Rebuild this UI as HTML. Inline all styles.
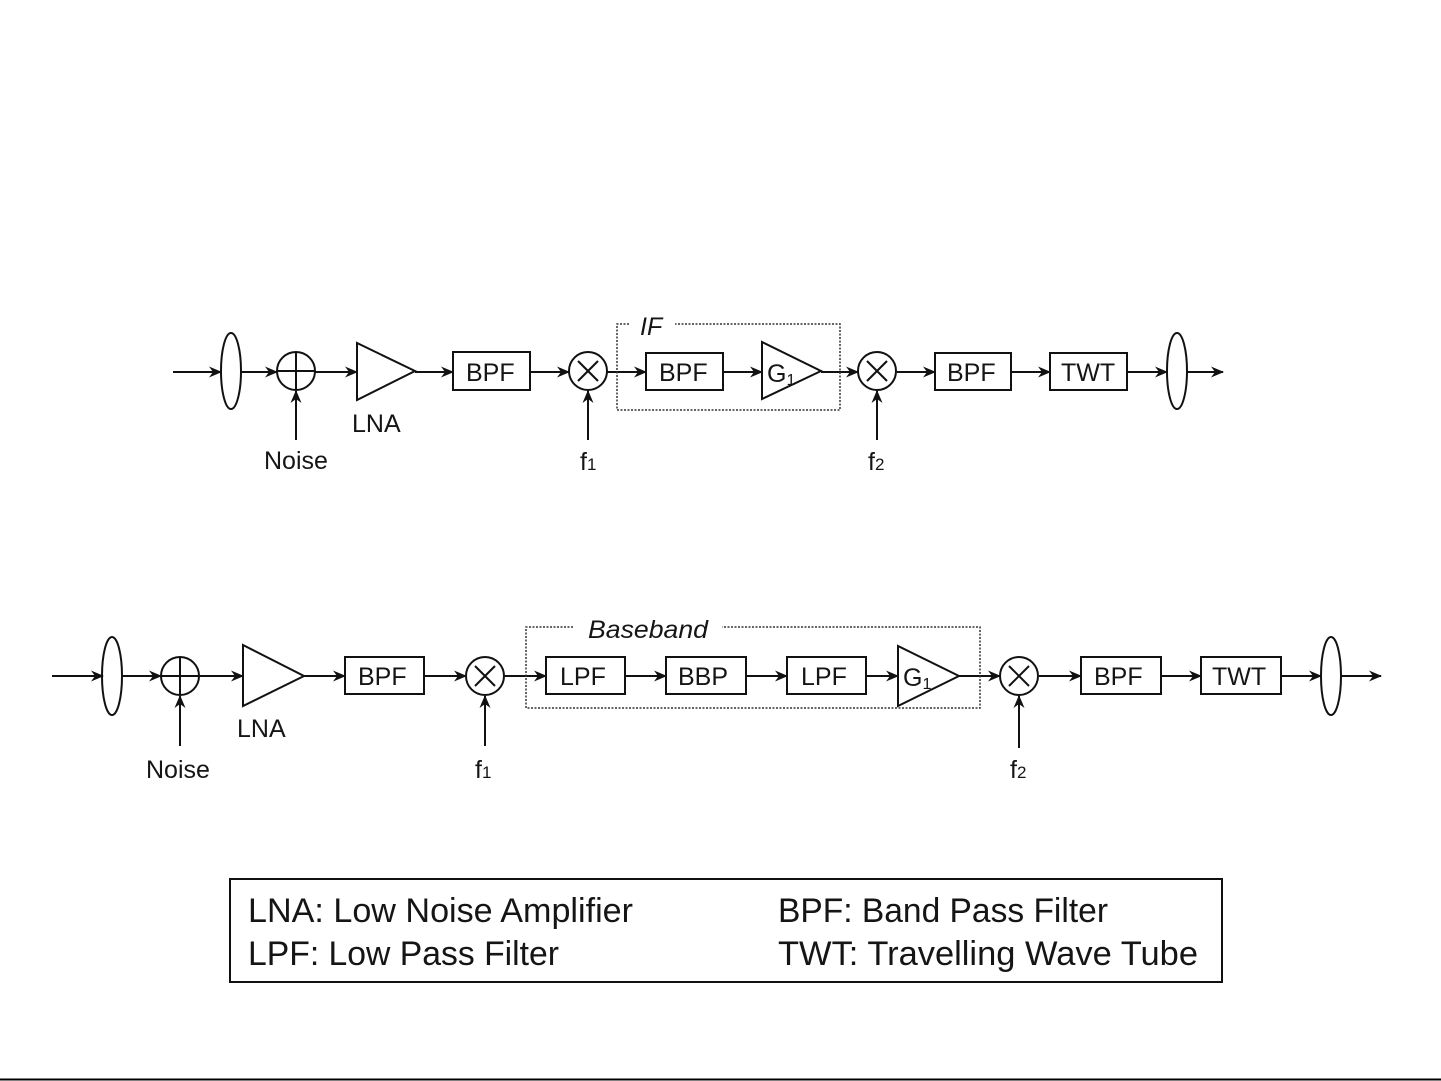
<!DOCTYPE html>
<html><head><meta charset="utf-8"><style>
html,body{margin:0;padding:0;background:#fff;}
svg{display:block;}
text{font-family:"Liberation Sans",Arial,sans-serif;fill:#151515;}
</style></head><body>
<svg width="1441" height="1081" viewBox="0 0 1441 1081" xmlns="http://www.w3.org/2000/svg">
<defs>
<marker id="ah" viewBox="0 0 13 11" refX="12" refY="5.5" markerWidth="13" markerHeight="11" markerUnits="userSpaceOnUse" orient="auto">
<path d="M0,0 L13,5.5 L0,11 L4,5.5 Z" fill="#111"/>
</marker>
</defs>
<g stroke="#111" stroke-width="2" fill="none">
<!-- TOP ROW -->
<line x1="173" y1="372" x2="221" y2="372" marker-end="url(#ah)"/>
<ellipse cx="231" cy="371" rx="10" ry="38"/>
<line x1="241" y1="372" x2="277" y2="372" marker-end="url(#ah)"/>
<circle cx="296" cy="371" r="19"/>
<line x1="277" y1="371" x2="315" y2="371"/>
<line x1="296" y1="352" x2="296" y2="390"/>
<line x1="296" y1="440" x2="296" y2="391" marker-end="url(#ah)"/>
<line x1="315" y1="372" x2="357" y2="372" marker-end="url(#ah)"/>
<polygon points="357,343 357,400 415,371"/>
<line x1="415" y1="372" x2="453" y2="372" marker-end="url(#ah)"/>
<rect x="453" y="352" width="77" height="38"/>
<line x1="530" y1="372" x2="569" y2="372" marker-end="url(#ah)"/>
<circle cx="588" cy="371" r="19"/>
<line x1="578" y1="361" x2="598" y2="381"/><line x1="598" y1="361" x2="578" y2="381"/>
<line x1="588" y1="440" x2="588" y2="391" marker-end="url(#ah)"/>
<line x1="607" y1="372" x2="646" y2="372" marker-end="url(#ah)"/>
<rect x="646" y="353" width="77" height="37"/>
<line x1="723" y1="372" x2="762" y2="372" marker-end="url(#ah)"/>
<polygon points="762,342 762,399 821,371"/>
<line x1="821" y1="372" x2="858" y2="372" marker-end="url(#ah)"/>
<circle cx="877" cy="371" r="19"/>
<line x1="867" y1="361" x2="887" y2="381"/><line x1="887" y1="361" x2="867" y2="381"/>
<line x1="877" y1="440" x2="877" y2="391" marker-end="url(#ah)"/>
<line x1="897" y1="372" x2="935" y2="372" marker-end="url(#ah)"/>
<rect x="935" y="353" width="76" height="37"/>
<line x1="1011" y1="372" x2="1050" y2="372" marker-end="url(#ah)"/>
<rect x="1050" y="353" width="77" height="37"/>
<line x1="1127" y1="372" x2="1167" y2="372" marker-end="url(#ah)"/>
<ellipse cx="1177" cy="371" rx="10" ry="38"/>
<line x1="1187" y1="372" x2="1223" y2="372" marker-end="url(#ah)"/>

<!-- BOTTOM ROW -->
<line x1="52" y1="676" x2="103" y2="676" marker-end="url(#ah)"/>
<ellipse cx="112" cy="676" rx="10" ry="39"/>
<line x1="122" y1="676" x2="161" y2="676" marker-end="url(#ah)"/>
<circle cx="180" cy="676" r="19"/>
<line x1="161" y1="676" x2="199" y2="676"/>
<line x1="180" y1="657" x2="180" y2="695"/>
<line x1="180" y1="746" x2="180" y2="696" marker-end="url(#ah)"/>
<line x1="199" y1="676" x2="243" y2="676" marker-end="url(#ah)"/>
<polygon points="243,645 243,706 304,676"/>
<line x1="304" y1="676" x2="345" y2="676" marker-end="url(#ah)"/>
<rect x="345" y="657" width="79" height="37"/>
<line x1="424" y1="676" x2="466" y2="676" marker-end="url(#ah)"/>
<circle cx="485" cy="676" r="19"/>
<line x1="475" y1="666" x2="495" y2="686"/><line x1="495" y1="666" x2="475" y2="686"/>
<line x1="485" y1="746" x2="485" y2="696" marker-end="url(#ah)"/>
<line x1="504" y1="676" x2="546" y2="676" marker-end="url(#ah)"/>
<rect x="546" y="657" width="79" height="37"/>
<line x1="625" y1="676" x2="666" y2="676" marker-end="url(#ah)"/>
<rect x="666" y="657" width="80" height="37"/>
<line x1="746" y1="676" x2="787" y2="676" marker-end="url(#ah)"/>
<rect x="787" y="657" width="79" height="37"/>
<line x1="866" y1="676" x2="898" y2="676" marker-end="url(#ah)"/>
<polygon points="898,646 898,706 959,676"/>
<line x1="959" y1="676" x2="1000" y2="676" marker-end="url(#ah)"/>
<circle cx="1019" cy="676" r="19"/>
<line x1="1009" y1="666" x2="1029" y2="686"/><line x1="1029" y1="666" x2="1009" y2="686"/>
<line x1="1019" y1="748" x2="1019" y2="696" marker-end="url(#ah)"/>
<line x1="1039" y1="676" x2="1081" y2="676" marker-end="url(#ah)"/>
<rect x="1081" y="657" width="80" height="37"/>
<line x1="1161" y1="676" x2="1201" y2="676" marker-end="url(#ah)"/>
<rect x="1201" y="657" width="80" height="37"/>
<line x1="1281" y1="676" x2="1321" y2="676" marker-end="url(#ah)"/>
<ellipse cx="1331" cy="676" rx="10" ry="39"/>
<line x1="1341" y1="676" x2="1381" y2="676" marker-end="url(#ah)"/>

<!-- legend box -->
<rect x="230" y="879" width="992" height="103"/>
</g>

<!-- dotted boxes -->
<g stroke="#333" stroke-width="1.5" fill="none" stroke-dasharray="2,1.5">
<polyline points="629,324 617,324 617,410 840,410 840,324 675,324"/>
<polyline points="573,627 526,627 526,708 980,708 980,627 722,627"/>
</g>

<!-- bottom rule -->
<line x1="0" y1="1079.5" x2="1441" y2="1079.5" stroke="#000" stroke-width="2"/>

<!-- labels -->
<g font-size="25">
<text x="466" y="381">BPF</text>
<text x="659" y="381">BPF</text>
<text x="767" y="382">G<tspan font-size="16" dy="3">1</tspan></text>
<text x="947" y="381">BPF</text>
<text x="1061" y="381">TWT</text>
<text x="352" y="432">LNA</text>
<text x="264" y="469">Noise</text>
<text x="580" y="470">f<tspan font-size="17">1</tspan></text>
<text x="868" y="470">f<tspan font-size="17">2</tspan></text>
<text x="640" y="335" font-style="italic">IF</text>

<text x="358" y="685">BPF</text>
<text x="560" y="685">LPF</text>
<text x="678" y="685">BBP</text>
<text x="801" y="685">LPF</text>
<text x="903" y="686">G<tspan font-size="16" dy="3">1</tspan></text>
<text x="1094" y="685">BPF</text>
<text x="1212" y="685">TWT</text>
<text x="237" y="737">LNA</text>
<text x="146" y="778">Noise</text>
<text x="475" y="778">f<tspan font-size="17">1</tspan></text>
<text x="1010" y="778">f<tspan font-size="17">2</tspan></text>
<text x="588" y="638" font-style="italic" textLength="120" lengthAdjust="spacingAndGlyphs">Baseband</text>
</g>

<g font-size="34">
<text x="248" y="922" textLength="385" lengthAdjust="spacingAndGlyphs">LNA: Low Noise Amplifier</text>
<text x="248" y="965" textLength="311" lengthAdjust="spacingAndGlyphs">LPF: Low Pass Filter</text>
<text x="778" y="922" textLength="330" lengthAdjust="spacingAndGlyphs">BPF: Band Pass Filter</text>
<text x="778" y="965" textLength="420" lengthAdjust="spacingAndGlyphs">TWT: Travelling Wave Tube</text>
</g>
</svg>
</body></html>
